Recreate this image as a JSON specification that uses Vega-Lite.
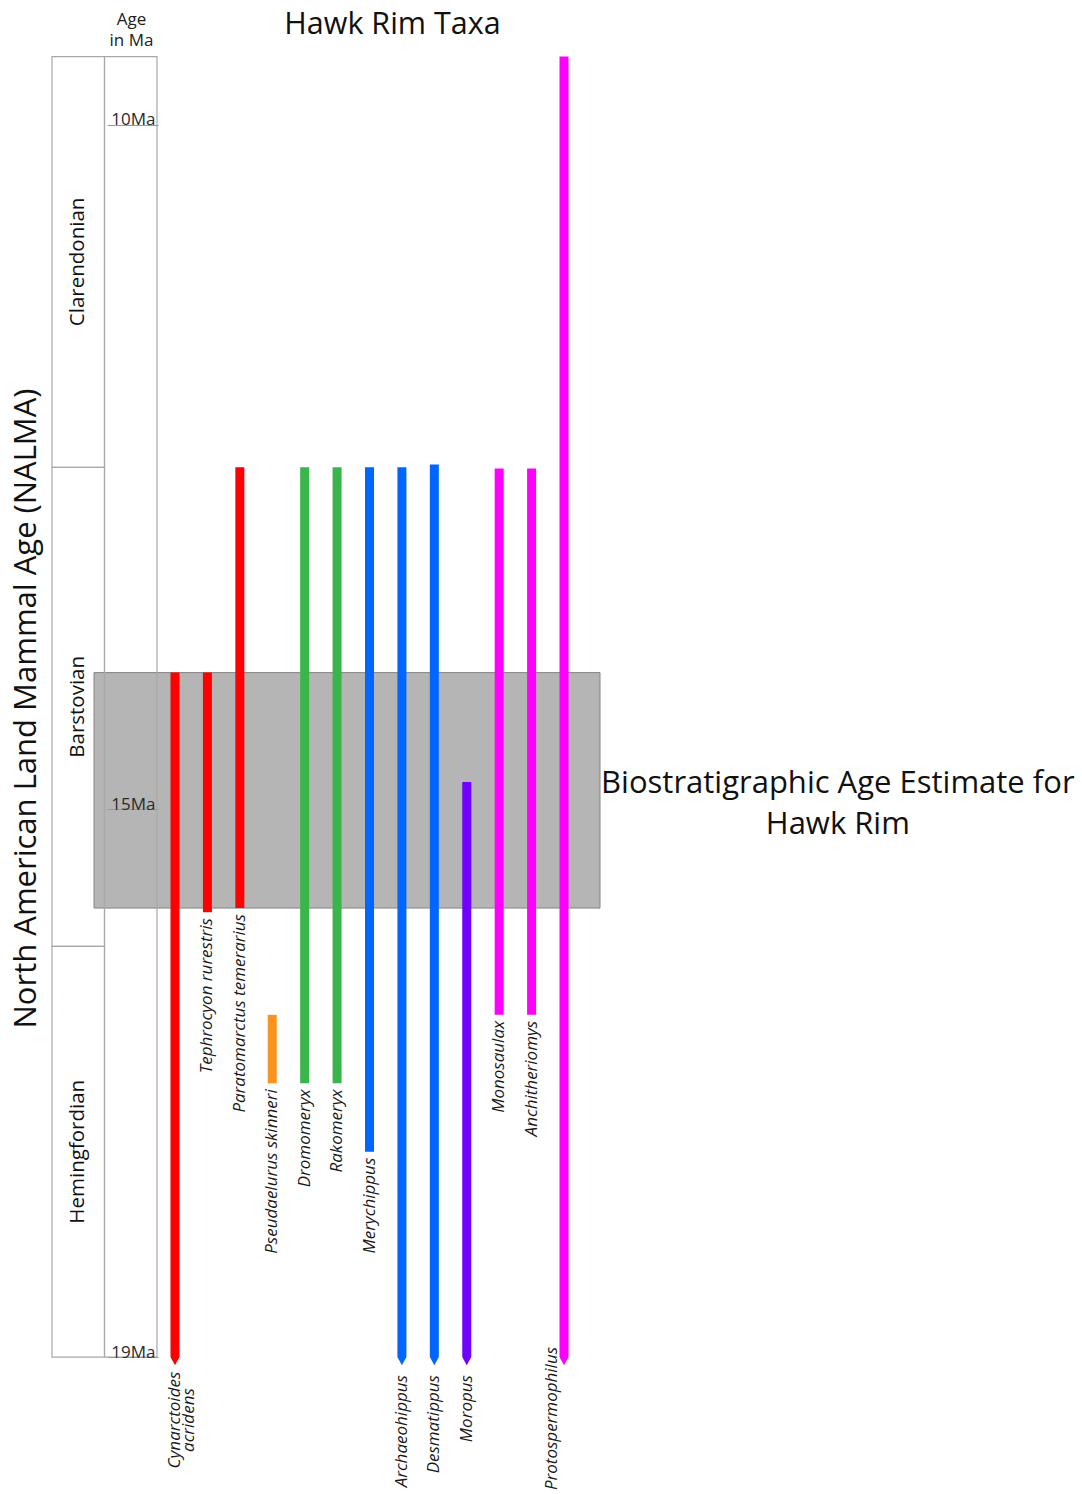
{
  "$schema": "https://vega.github.io/schema/vega-lite/v6.json",
  "width": 1082,
  "height": 1494,
  "autosize": {"type": "fit", "contains": "padding"},
  "padding": 0,
  "background": "white",
  "config": {"view": {"stroke": null}, "font": "Open Sans"},
  "datasets": {
    "units": [
      {"column": "NALMA", "unit": "Clarendonian", "start": 9.5, "end": 12.5},
      {"column": "NALMA", "unit": "Barstovian", "start": 12.5, "end": 16.0},
      {"column": "NALMA", "unit": "Hemingfordian", "start": 16.0, "end": 19.0},
      {"column": "Age", "unit": "Age in Ma", "start": 9.5, "end": 19.0}
    ],
    "estimate": [
      {"label": "Biostratigraphic Age Estimate for\nHawk Rim", "start": 14.0, "end": 15.72}
    ],
    "taxa": [
      {"taxon": "Cynarctoides acridens", "family": "Canidae", "young": 14.0, "old": 19.0, "open": true},
      {"taxon": "Tephrocyon rurestris", "family": "Canidae", "young": 14.0, "old": 15.75, "open": false},
      {"taxon": "Paratomarctus temerarius", "family": "Canidae", "young": 12.5, "old": 15.72, "open": false},
      {"taxon": "Pseudaelurus skinneri", "family": "Felidae", "young": 16.5, "old": 17.0, "open": false},
      {"taxon": "Dromomeryx", "family": "Dromomerycidae", "young": 12.5, "old": 17.0, "open": false},
      {"taxon": "Rakomeryx", "family": "Dromomerycidae", "young": 12.5, "old": 17.0, "open": false},
      {"taxon": "Merychippus", "family": "Equidae", "young": 12.5, "old": 17.5, "open": false},
      {"taxon": "Archaeohippus", "family": "Equidae", "young": 12.5, "old": 19.0, "open": true},
      {"taxon": "Desmatippus", "family": "Equidae", "young": 12.48, "old": 19.0, "open": true},
      {"taxon": "Moropus", "family": "Chalicotheriidae", "young": 14.8, "old": 19.0, "open": true},
      {"taxon": "Monosaulax", "family": "Castoridae", "young": 12.51, "old": 16.5, "open": false},
      {"taxon": "Anchitheriomys", "family": "Castoridae", "young": 12.51, "old": 16.5, "open": false},
      {"taxon": "Protospermophilus", "family": "Sciuridae", "young": 9.5, "old": 19.0, "open": true}
    ]
  },
  "layer": [
    {
      "data": {"name": "estimate"},
      "encoding": {
        "x": {"field": "label", "type": "nominal", "scale": {"type": "band", "range": [94, 600], "paddingInner": 0, "paddingOuter": 0}, "axis": null}
      },
      "layer": [
        {
          "mark": {"type": "rect", "fill": "#b5b5b5", "stroke": "#858585", "strokeWidth": 1},
          "encoding": {
            "y": {
              "field": "start", "type": "quantitative",
              "scale": {"domain": [9.087, 20.0], "reverse": true, "nice": false, "zero": false},
              "axis": {"orient": "left", "offset": -158, "values": [10, 15, 19], "labelExpr": "datum.value + 'Ma'",
                "tickSize": 51, "tickColor": "#9a9a9a", "tickWidth": 1, "labelPadding": -48, "labelAlign": "right",
                "labelBaseline": "alphabetic", "labelFontSize": 17, "labelFont": "Open Sans", "labelColor": "#2a2a2a",
                "labelOverlap": false, "labelFlush": false, "domain": false, "grid": false, "zindex": 1,
                "title": ["Age", "in Ma"], "titleAngle": 0, "titleX": -27, "titleY": 24, "titleAlign": "center",
                "titleBaseline": "alphabetic", "titleFontSize": 17, "titleFontWeight": "normal", "titleLineHeight": 21,
                "titleFont": "Open Sans", "titleColor": "#222222"}
            },
            "y2": {"field": "end"}
          }
        },
        {
          "transform": [{"fold": ["start", "end"], "as": ["bound", "age"]}],
          "mark": {"type": "text", "align": "center", "baseline": "middle", "fontSize": 31, "lineBreak": "\n", "lineHeight": 41, "dy": -6, "font": "Open Sans", "color": "#111111"},
          "encoding": {
            "x": {"field": "label", "type": "nominal", "bandPosition": 1.47},
            "y": {"aggregate": "mean", "field": "age", "type": "quantitative"},
            "text": {"field": "label"}
          }
        }
      ]
    },
    {
      "data": {"name": "units"},
      "encoding": {
        "x": {
          "field": "column", "type": "nominal",
          "scale": {"type": "band", "domain": ["NALMA", "Age"], "range": [52, 157], "paddingInner": 0, "paddingOuter": 0},
          "axis": {"orient": "top", "labels": false, "ticks": false, "domain": false, "grid": false,
            "title": "North American Land Mammal Age (NALMA)", "titleAngle": 270, "titleX": 26, "titleY": 708,
            "titleAlign": "center", "titleBaseline": "middle", "titleFontSize": 31, "titleFontWeight": "normal",
            "titleFont": "Open Sans", "titleColor": "#111111"}
        }
      },
      "layer": [
        {
          "mark": {"type": "rect", "fill": "transparent", "stroke": "#a8a8a8", "strokeWidth": 1.2},
          "encoding": {
            "y": {"field": "start", "type": "quantitative"},
            "y2": {"field": "end"}
          }
        },
        {
          "transform": [{"filter": "datum.column === 'NALMA'"}, {"fold": ["start", "end"], "as": ["bound", "age"]}],
          "mark": {"type": "text", "angle": 270, "align": "center", "baseline": "middle", "fontSize": 20.5, "font": "Open Sans", "color": "#111111"},
          "encoding": {
            "y": {"aggregate": "mean", "field": "age", "type": "quantitative"},
            "text": {"field": "unit"}
          }
        }
      ]
    },
    {
      "data": {"name": "taxa"},
      "encoding": {
        "x": {
          "field": "taxon", "type": "nominal",
          "scale": {"type": "point", "range": [175, 564], "padding": 0,
            "domain": ["Cynarctoides acridens", "Tephrocyon rurestris", "Paratomarctus temerarius", "Pseudaelurus skinneri", "Dromomeryx", "Rakomeryx", "Merychippus", "Archaeohippus", "Desmatippus", "Moropus", "Monosaulax", "Anchitheriomys", "Protospermophilus"]},
          "axis": {"orient": "top", "labels": false, "ticks": false, "domain": false, "grid": false,
            "title": "Hawk Rim Taxa", "titleX": 392, "titleY": 33, "titleAlign": "center", "titleBaseline": "alphabetic",
            "titleFontSize": 30.5, "titleFontWeight": "normal", "titleFont": "Open Sans", "titleColor": "#111111"}
        }
      },
      "layer": [
        {
          "mark": {"type": "rule", "strokeWidth": 9, "strokeCap": "butt"},
          "encoding": {
            "y": {"field": "young", "type": "quantitative"},
            "y2": {"field": "old"},
            "color": {"field": "family", "type": "nominal", "legend": null,
              "scale": {"domain": ["Canidae", "Felidae", "Dromomerycidae", "Equidae", "Chalicotheriidae", "Castoridae", "Sciuridae"],
                "range": ["#ff0000", "#f7931e", "#39b54a", "#0066ff", "#7000ff", "#ff00ff", "#ff00ff"]}}
          }
        },
        {
          "transform": [{"filter": "datum.open"}],
          "mark": {"type": "point", "shape": "M-1,0L1,0L0,1.8Z", "filled": true, "size": 81, "opacity": 1, "strokeWidth": 0},
          "encoding": {
            "y": {"field": "old", "type": "quantitative"},
            "color": {"field": "family", "type": "nominal", "legend": null}
          }
        },
        {
          "transform": [{"filter": "!datum.open"}],
          "mark": {"type": "text", "angle": 270, "align": "right", "baseline": "middle", "dx": -6, "fontSize": 17, "fontStyle": "italic", "font": "Open Sans", "color": "#1a1a1a"},
          "encoding": {
            "y": {"field": "old", "type": "quantitative"},
            "text": {"field": "taxon"}
          }
        },
        {
          "transform": [{"filter": "datum.open && datum.taxon !== 'Cynarctoides acridens' && datum.taxon !== 'Protospermophilus'"}],
          "mark": {"type": "text", "angle": 270, "align": "right", "baseline": "middle", "dx": -18, "fontSize": 17, "fontStyle": "italic", "font": "Open Sans", "color": "#1a1a1a"},
          "encoding": {
            "y": {"field": "old", "type": "quantitative"},
            "text": {"field": "taxon"}
          }
        },
        {
          "transform": [{"filter": "datum.taxon === 'Cynarctoides acridens'"}],
          "mark": {"type": "text", "angle": 270, "align": "center", "baseline": "middle", "dx": -63, "lineBreak": " ", "lineHeight": 14, "fontSize": 17, "fontStyle": "italic", "font": "Open Sans", "color": "#1a1a1a"},
          "encoding": {
            "y": {"field": "old", "type": "quantitative"},
            "text": {"field": "taxon"}
          }
        },
        {
          "transform": [{"filter": "datum.taxon === 'Protospermophilus'"}],
          "mark": {"type": "text", "angle": 270, "align": "left", "baseline": "middle", "dx": -133, "dy": -12, "fontSize": 17, "fontStyle": "italic", "font": "Open Sans", "color": "#1a1a1a"},
          "encoding": {
            "y": {"field": "old", "type": "quantitative"},
            "text": {"field": "taxon"}
          }
        }
      ]
    }
  ],
  "resolve": {"scale": {"x": "independent"}}
}
